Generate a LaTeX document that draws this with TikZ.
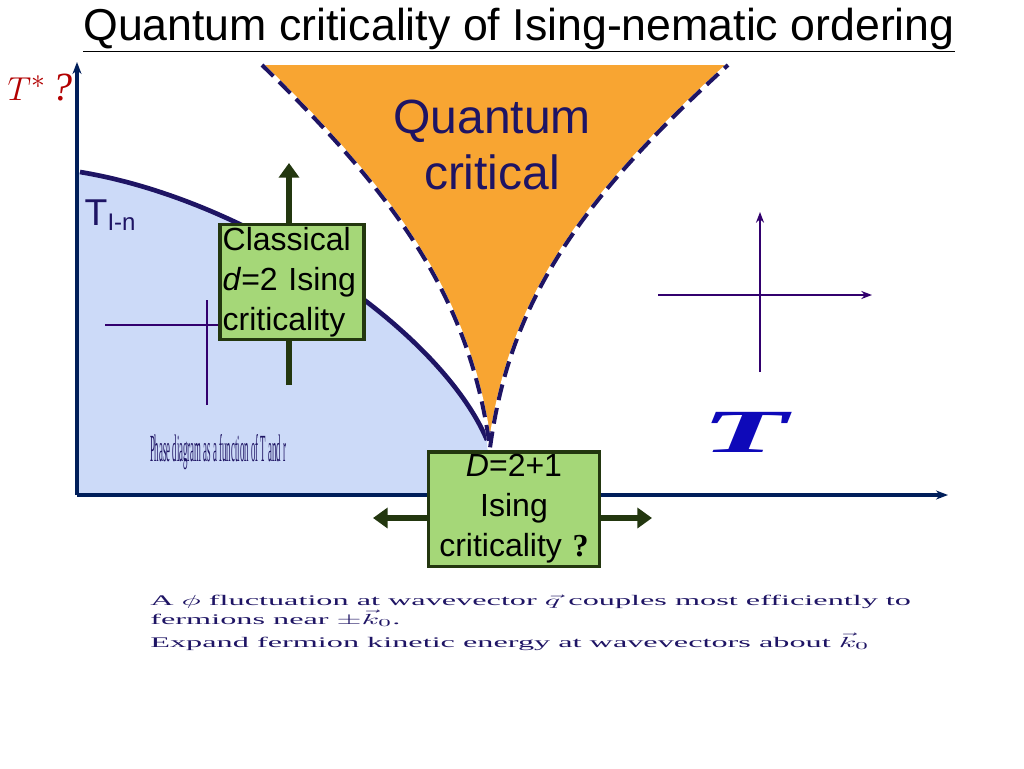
\documentclass[tikz,border=0pt]{standalone}
\usepackage{fontspec}
\setmainfont{Liberation Sans}
\newfontfamily\serifed{Liberation Serif}
\usetikzlibrary{arrows.meta}
\definecolor{navy}{RGB}{30,20,100}
\definecolor{axis}{RGB}{0,30,90}
\definecolor{lblue}{RGB}{204,218,248}
\definecolor{orng}{RGB}{248,165,50}
\definecolor{lgreen}{RGB}{165,215,120}
\definecolor{dgreen}{RGB}{35,55,15}
\definecolor{purp}{RGB}{50,0,110}
\tikzset{
 gbox/.style={draw=dgreen,line width=2.5pt,fill=lgreen,align=center,inner sep=2pt},
 garrow/.style={draw=dgreen,line width=4pt,-{Triangle[length=11pt,width=15pt]}},
 parrow/.style={draw=purp,line width=1.3pt,-{Stealth[length=8pt]}},
}
\begin{document}
\begin{tikzpicture}[x=0.75pt,y=-0.75pt]
\useasboundingbox (0,0) rectangle (1024,768);
\fill[white] (0,0) rectangle (1024,768);
% blue region
\fill[lblue] (77,172) .. controls (250,200) and (440,330) .. (487,440) -- (490,495) -- (77,495) -- cycle;
\draw[navy,line width=3.5pt] (80,172) .. controls (250,200) and (440,330) .. (487,440);
% orange region
\fill[orng] (262,65) .. controls (400,200) and (470,300) .. (490,448) .. controls (510,300) and (580,200) .. (728,65) -- cycle;
\draw[white,line width=3pt] (262,65) .. controls (400,200) and (470,300) .. (490,448) .. controls (510,300) and (580,200) .. (728,65);
\draw[navy,line width=3pt,dash pattern=on 12pt off 6pt] (262,65) .. controls (400,200) and (470,300) .. (490,448) .. controls (510,300) and (580,200) .. (728,65);
% axes
\draw[axis,line width=2.5pt,-{Stealth[length=9pt]}] (77,495) coordinate (o) -- (77,62) coordinate (ytop);
\draw[axis,line width=2.5pt,-{Stealth[length=9pt]}] (o) -- (948,495) coordinate (xend);
% title
\node (title) at (519,30) {\fontsize{33.5}{36}\selectfont\underline{Quantum criticality of Ising-nematic ordering}};
\node[red!70!black,font=\serifed\itshape\fontsize{30}{30}\selectfont] (tstar) at (40,88) {$T^*$\,?};
\node[navy,font=\fontsize{36}{42}\selectfont,align=center] (qc) at (492,145) {Quantum\\critical};
\node[navy,anchor=west,font=\fontsize{28}{30}\selectfont] (tin) at (80,215) {T\textsubscript{\fontsize{18}{18}\selectfont I-n}};
% left crosshair
\coordinate (lh1) at (105,325); \coordinate (lh2) at (225,325);
\coordinate (lv1) at (207,405); \coordinate (lv2) at (207,300);
\draw[purp,line width=1.5pt] (lh1) -- (lh2);
\draw[purp,line width=1.5pt] (lv1) -- (lv2);
% right crosshair
\coordinate (rh1) at (658,295); \coordinate (rh2) at (872,295);
\coordinate (rv1) at (760,372); \coordinate (rv2) at (760,212);
\draw[parrow] (rh1) -- (rh2);
\draw[parrow] (rv1) -- (rv2);
% classical box and arrow
\coordinate (ca1) at (289,385); \coordinate (ca2) at (289,163);
\draw[garrow] (ca1) -- (ca2);
\node[gbox,font=\fontsize{24}{30}\selectfont,text width=104pt,align=left] (cbox) at (292,282) {Classical\\\textit{d}=2 Ising\\criticality};
% D=2+1 box
\coordinate (dl) at (373,518); \coordinate (dr) at (652,518);
\draw[garrow] (514,518) -- (dl);
\draw[garrow] (514,518) -- (dr);
\node[gbox,font=\fontsize{24}{30}\selectfont,text width=124pt] (dbox) at (514,509) {\textit{D}=2+1\\Ising\\criticality {\serifed\bfseries ?}};
% big T
\node[blue!55!navy,font=\serifed\bfseries\itshape\fontsize{46}{46}\selectfont,xscale=2.3] (bigT) at (745,432) {T};
% small caption
\node[navy,font=\serifed\fontsize{12}{12}\selectfont,xscale=0.55,yscale=2.4] (cap) at (218,452) {Phase diagram as a function of T and r};
% bottom text
\node[anchor=west,navy,font=\serifed\fontsize{11}{12}\selectfont,xscale=2.2,align=left] (l1) at (140,611) {A $\phi$ fluctuation at wavevector $\vec q$ couples most efficiently to\\fermions near $\pm\vec k_0$.};
\node[anchor=west,navy,font=\serifed\fontsize{11}{12}\selectfont,xscale=2.2] (l2) at (140,642) {Expand fermion kinetic energy at wavevectors about $\vec k_0$};
\end{tikzpicture}
\end{document}
